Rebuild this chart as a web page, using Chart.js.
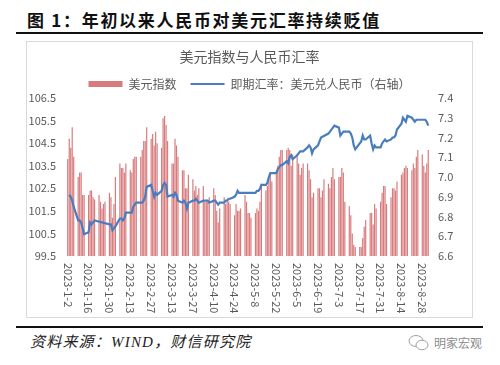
<!DOCTYPE html>
<html>
<head>
<meta charset="utf-8">
<script src="https://cdn.jsdelivr.net/npm/chart.js@4.4.0/dist/chart.umd.min.js"></script>
<style>
  body { margin: 0; width: 500px; height: 365px; background: #fff; position: relative; overflow: hidden; font-family: "Noto Sans CJK SC", sans-serif; }
  #title { position: absolute; left: 27px; top: 9px; font-size: 17px; line-height: 22px; font-weight: bold; letter-spacing: 1.7px; color: #111; white-space: nowrap; }
  .rule { position: absolute; left: 16px; width: 467px; height: 2px; background: #111; }
  #box { position: absolute; left: 26px; top: 41px; width: 447px; height: 277px; border: 1px solid #d9d9d9; box-sizing: border-box; }
  #src { position: absolute; left: 30px; top: 332px; font-size: 15px; line-height: 20px; font-style: italic; letter-spacing: 1.2px; color: #222; font-family: "Liberation Serif", "Noto Sans CJK SC", serif; white-space: nowrap; }
  #mark { position: absolute; left: 408px; top: 334px; font-size: 12px; line-height: 16px; color: #8c8c8c; white-space: nowrap; }
  #mark svg { vertical-align: -4px; margin-right: 4px; }
</style>
</head>
<body>
<div id="title">图 1：年初以来人民币对美元汇率持续贬值</div>
<div class="rule" style="top:32px"></div>
<div id="box"><canvas id="chart" width="445" height="275"></canvas></div>
<div class="rule" style="top:326px"></div>
<div id="src">资料来源：WIND，财信研究院</div>
<div id="mark"><svg width="22" height="18" viewBox="0 0 22 18"><ellipse cx="8" cy="7" rx="7" ry="5.5" fill="none" stroke="#a0a0a0" stroke-width="1"/><ellipse cx="14" cy="11" rx="6" ry="4.8" fill="#fff" stroke="#a0a0a0" stroke-width="1"/></svg>明家宏观</div>

<script>
// calendar range of the chart (weekends stay empty)
const startDate = [2023, 0, 2];
const endDate = [2023, 8, 1];

const tickLabels = ['2023-1-2', '2023-1-16', '2023-1-30', '2023-2-13', '2023-2-27', '2023-3-13',
  '2023-3-27', '2023-4-10', '2023-4-24', '2023-5-8', '2023-5-22', '2023-6-5', '2023-6-19',
  '2023-7-3', '2023-7-17', '2023-7-31', '2023-8-14', '2023-8-28'];

// 美元指数, one value per weekday (Mon-Fri)
const dollarIndex = [
  103.8, 104.7, 104.3, 105.2, 103.9,
  103.0, 103.2, 103.2, 102.2, 102.2,
  102.2, 102.4, 102.4, 102.1, 102.0,
  102.2, 101.9, 101.6, 101.8, 101.9,
  102.3, 102.1, 101.2, 101.8, 103.0,
  103.6, 103.4, 103.4, 103.2, 103.6,
  103.3, 103.2, 103.8, 103.9, 103.9,
  103.9, 104.2, 104.6, 104.6, 105.2,
  104.7, 104.9, 104.4, 105.0, 104.5,
  104.3, 105.6, 105.7, 105.3, 104.6,
  103.6, 103.6, 104.7, 104.4, 103.9,
  103.3, 103.3, 102.5, 102.5, 103.1,
  102.9, 102.4, 102.6, 102.2, 102.5,
  102.6, 101.9, 101.9, 101.9, 102.1,
  102.5, 102.2, 101.5, 101.0, 101.6,
  102.1, 101.8, 101.9, 101.9, 101.8,
  101.3, 101.8, 101.5, 101.5, 101.6,
  102.2, 101.9, 101.4, 101.4, 101.2,
  101.4, 101.6, 101.5, 101.9, 102.7,
  102.4, 102.6, 102.9, 103.2, 102.8,
  103.2, 103.5, 103.9, 104.2, 104.2,
  104.2, 104.3, 104.2, 103.5, 104.0,
  104.0, 103.6, 103.1, 103.4, 103.6,
  103.6, 103.3, 102.9, 102.1, 102.3,
  102.5, 102.5, 102.1, 102.4, 102.9,
  102.7, 102.5, 103.0, 103.4, 102.9,
  103.0, 103.0, 103.4, 103.2, 101.9,
  101.7, 101.3, 100.5, 100.0, 99.9,
  99.9, 99.9, 100.3, 100.8, 101.1,
  101.4, 101.4, 100.9, 101.8, 101.6,
  101.9, 102.3, 102.6, 102.6, 101.8,
  102.1, 102.5, 102.5, 102.4, 102.8,
  103.1, 103.2, 103.4, 103.5, 103.4,
  103.3, 103.6, 103.4, 103.9, 104.2,
  104.0, 103.5, 103.2, 103.6, 104.2
];

// 即期汇率：美元兑人民币, one value per weekday (null = CN holiday)
const usdCny = [
  null, 6.91, 6.90, 6.88, 6.85,
  6.78, 6.78, 6.77, 6.74, 6.71,
  6.72, 6.77, 6.76, 6.77, 6.78,
  null, null, null, null, null,
  6.76, 6.76, 6.73, 6.74, 6.75,
  6.79, 6.79, 6.78, 6.79, 6.82,
  6.82, 6.82, 6.85, 6.86, 6.87,
  6.87, 6.87, 6.88, 6.90, 6.95,
  6.96, 6.93, 6.90, 6.92, 6.91,
  6.93, 6.96, 6.97, 6.96, 6.90,
  6.91, 6.90, 6.92, 6.91, 6.88,
  6.87, 6.88, 6.87, 6.84, 6.87,
  6.88, 6.88, 6.89, 6.88, 6.87,
  6.88, 6.88, null, 6.88, 6.87,
  6.88, 6.88, 6.87, 6.86, 6.87,
  6.87, 6.88, 6.88, 6.89, 6.89,
  6.90, 6.91, 6.93, 6.92, 6.92,
  null, null, null, 6.92, 6.92,
  6.92, 6.93, 6.93, 6.94, 6.96,
  6.96, 6.97, 7.00, 7.02, 7.02,
  7.02, 7.04, 7.05, 7.06, 7.06,
  7.08, 7.07, 7.10, 7.11, 7.09,
  7.11, 7.12, 7.13, 7.13, 7.13,
  7.15, 7.16, 7.15, 7.12, 7.14,
  7.16, 7.18, 7.20, null, null,
  7.22, 7.23, 7.24, 7.25, 7.26,
  7.25, 7.21, 7.22, 7.23, 7.23,
  7.23, 7.22, 7.20, 7.16, 7.14,
  7.17, 7.18, 7.21, 7.19, 7.19,
  7.21, 7.17, 7.14, 7.16, 7.15,
  7.15, 7.17, 7.18, 7.19, 7.18,
  7.19, 7.20, 7.20, 7.21, 7.24,
  7.27, 7.30, 7.29, 7.28, 7.31,
  7.30, 7.29, 7.28, 7.29, 7.29,
  7.29, 7.29, 7.29, 7.28, 7.26
];

// spread the weekday values over calendar days
const categories = [];
const barData = [];
const lineData = [];
let k = 0;
const last = new Date(endDate[0], endDate[1], endDate[2]);
for (let d = new Date(startDate[0], startDate[1], startDate[2]); d <= last; d.setDate(d.getDate() + 1)) {
  categories.push(d.getFullYear() + '-' + (d.getMonth() + 1) + '-' + d.getDate());
  const wd = d.getDay();
  if (wd === 0 || wd === 6) {
    barData.push(null); lineData.push(null);
  } else {
    barData.push(dollarIndex[k]); lineData.push(usdCny[k]); k++;
  }
}

const GREY = '#595959';
Chart.defaults.font.family = '"Noto Sans CJK SC", "Noto Sans", sans-serif';
Chart.defaults.color = GREY;

// x labels read top-to-bottom, so draw them ourselves at the category pixels
const xLabels = {
  id: 'xLabels',
  afterDraw(chart) {
    const { ctx, chartArea, scales } = chart;
    ctx.save();
    ctx.font = '11px "Noto Sans CJK SC", sans-serif';
    ctx.fillStyle = GREY;
    ctx.textAlign = 'left';
    ctx.textBaseline = 'middle';
    tickLabels.forEach(lbl => {
      const x = scales.x.getPixelForValue(categories.indexOf(lbl));
      ctx.save();
      ctx.translate(x, chartArea.bottom + 7);
      ctx.rotate(Math.PI / 2);
      ctx.fillText(lbl, 0, 0);
      ctx.restore();
    });
    ctx.restore();
  }
};

new Chart(document.getElementById('chart'), {
  type: 'bar',
  data: {
    labels: categories,
    datasets: [{
      label: '美元指数',
      data: barData,
      backgroundColor: '#D87B7D',
      barPercentage: 0.8,
      categoryPercentage: 1,
      yAxisID: 'y',
      order: 2,
      pointStyle: 'rect'
    }, {
      type: 'line',
      label: '即期汇率：美元兑人民币（右轴）',
      data: lineData,
      borderColor: '#4A7DBE',
      backgroundColor: '#4A7DBE',
      borderWidth: 2.2,
      pointRadius: 0,
      tension: 0,
      spanGaps: true,
      yAxisID: 'y1',
      order: 1,
      pointStyle: 'line'
    }]
  },
  options: {
    responsive: false,
    animation: false,
    layout: { padding: 0 },
    plugins: {
      tooltip: { enabled: false },
      title: {
        display: true,
        text: '美元指数与人民币汇率',
        color: GREY,
        font: { size: 14, weight: 'normal', lineHeight: 1 },
        padding: { top: 8, bottom: 0 }
      },
      legend: {
        display: true,
        maxHeight: 34,
        labels: {
          color: GREY,
          font: { size: 12 },
          usePointStyle: true,
          pointStyleWidth: 34,
          boxHeight: 6,
          padding: 14,
          sort: (a, b) => a.datasetIndex - b.datasetIndex,
          generateLabels(chart) {
            const items = Chart.defaults.plugins.legend.labels.generateLabels(chart);
            items[0].fillStyle = '#C0504D';
            return items;
          }
        }
      }
    },
    scales: {
      x: {
        grid: { display: false, drawTicks: false },
        border: { display: false },
        ticks: { display: false },
        afterFit(s) { s.height = 61; }
      },
      y: {
        position: 'left',
        min: 99.5, max: 106.5,
        grid: { display: false, drawTicks: false },
        border: { display: false },
        ticks: { stepSize: 1, padding: 11, color: GREY, font: { size: 11 }, callback: v => v.toFixed(1) },
        afterFit(s) { s.width = 40; }
      },
      y1: {
        position: 'right',
        min: 6.6, max: 7.4,
        grid: { display: false, drawTicks: false },
        border: { display: false },
        ticks: { stepSize: 0.1, padding: 9, color: GREY, font: { size: 11 }, callback: v => v.toFixed(1) },
        afterFit(s) { s.width = 43; }
      }
    }
  },
  plugins: [xLabels]
});
</script>
</body>
</html>
